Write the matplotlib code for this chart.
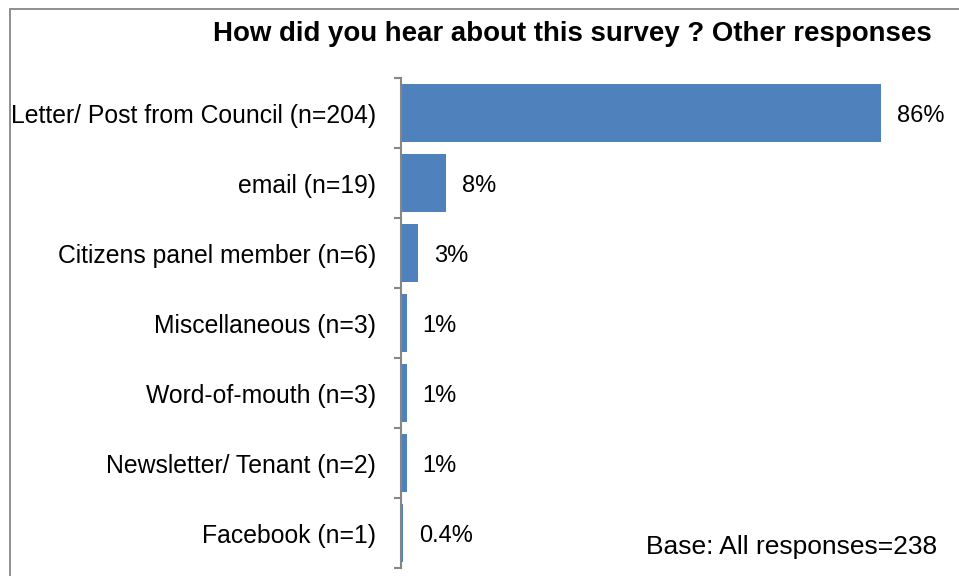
import matplotlib
matplotlib.use("Agg")
import matplotlib.pyplot as plt
from matplotlib.patches import Rectangle

# Sources d'information sur l'enquête (autres réponses)
categories = ["Letter/ Post from Council (n=204)", "email (n=19)",
              "Citizens panel member (n=6)", "Miscellaneous (n=3)",
              "Word-of-mouth (n=3)", "Newsletter/ Tenant (n=2)", "Facebook (n=1)"]
pourcentages = [86, 8, 3, 1, 1, 1, 0.4]
base_total = 238

plt.rcParams['font.family'] = ['Liberation Sans', 'DejaVu Sans']

W, H = 959, 576
fig = plt.figure(figsize=(W / 100, H / 100), dpi=100)

# cadre gris autour du graphique
fig.patches.append(Rectangle((9.5 / W, -0.1), 1.2, 1 - 8.5 / H + 0.1,
                             transform=fig.transFigure, fill=False,
                             edgecolor="#868686", linewidth=1.3))

ax = fig.add_axes([401 / W, 1 - 568 / H, 558 / W, 490 / H])
positions = list(range(len(categories)))
ax.barh(positions, pourcentages, height=0.83, color="#4f81bd")
ax.set_xlim(0, 100)
ax.set_ylim(len(categories) - 0.5, -0.5)

# étiquettes des valeurs
for y, v in zip(positions, pourcentages):
    txt = f"{v:g}%"
    ax.annotate(txt, (v, y), xytext=(11.5, -2.5), textcoords="offset points",
                ha="left", va="center", fontsize=17, color="black")

ax.set_yticks(positions)
ax.set_yticklabels(categories, fontsize=17.8)
ax.tick_params(axis="y", which="major", length=0, pad=18)
ax.set_yticks([p - 0.5 for p in positions] + [len(categories) - 0.5], minor=True)
ax.tick_params(axis="y", which="minor", length=5, width=1.5, color="#868686")
ax.set_xticks([])
for s in ["top", "right", "bottom"]:
    ax.spines[s].set_visible(False)
ax.spines["left"].set_color("#868686")
ax.spines["left"].set_linewidth(1.5)

fig.text(572 / W, 1 - 34 / H, "How did you hear about this survey ? Other responses",
         ha="center", va="center", fontsize=19.9, fontweight="bold")
fig.text(937 / W, 1 - 547 / H, f"Base: All responses={base_total}",
         ha="right", va="center", fontsize=19)

fig.savefig("out.png", dpi=100)
